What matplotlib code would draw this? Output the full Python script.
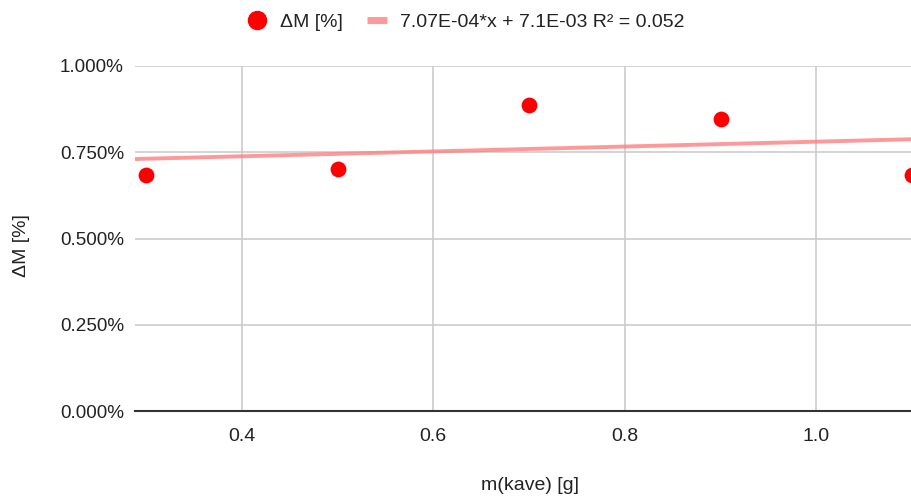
import matplotlib
matplotlib.use("Agg")
import matplotlib.pyplot as plt
import numpy as np
from matplotlib.ticker import FuncFormatter
from matplotlib.lines import Line2D

plt.rcParams['font.family'] = ['Liberation Sans', 'DejaVu Sans']

# data
x_vals = [0.3, 0.5, 0.7, 0.9, 1.1]
dm_pct = [0.684, 0.701, 0.887, 0.846, 0.684]  # in percent
trend_slope = 7.07e-04
trend_intercept = 7.1e-03
x_ticks = [0.4, 0.6, 0.8, 1.0]
y_ticks = [0.0, 0.25, 0.5, 0.75, 1.0]
series_label = "ΔM [%]"
trend_label = "7.07E-04*x + 7.1E-03 R² = 0.052"

FS = 14
TXT = '#222222'

fig = plt.figure(figsize=(9.12, 4.97), dpi=100)
ax = fig.add_axes([135/912, 1 - 411/497, (912-135)/912, (411-66)/497])

xlim = (0.2885, 1.1)
ax.set_xlim(*xlim)
ax.set_ylim(0, 1.0)

# trendline
tx = np.array(xlim)
ty = (trend_slope * tx + trend_intercept) * 100
ax.plot(tx, ty, color='#ff8080', alpha=0.8, lw=2.8, solid_capstyle='butt', zorder=3)

ax.scatter(x_vals, dm_pct, s=130, color='#ff0000', zorder=4, linewidths=0)

ax.set_xticks(x_ticks)
ax.set_yticks(y_ticks)
ax.xaxis.set_major_formatter(FuncFormatter(lambda v, p: f"{v:.1f}"))
ax.yaxis.set_major_formatter(FuncFormatter(lambda v, p: f"{v:.3f}%"))
ax.grid(True, color='#cccccc', lw=1.2, zorder=0)
ax.set_axisbelow(True)
for s in ['top', 'right', 'left']:
    ax.spines[s].set_visible(False)
ax.spines['bottom'].set_color('#333333')
ax.spines['bottom'].set_linewidth(1.5)
ax.spines['bottom'].set_zorder(5)
ax.tick_params(axis='both', length=0, labelsize=FS, colors=TXT)
ax.tick_params(axis='y', labelsize=13.6, pad=8)
ax.tick_params(axis='x', pad=12)

fig.text(530/912, 1 - 485/497, "m(kave) [g]", ha='center', va='center', fontsize=FS, color=TXT)
fig.text(22/912, 1 - 246/497, series_label, ha='center', va='center', rotation=90, fontsize=FS, color=TXT)

handles = [
    Line2D([], [], marker='o', ls='none', color='#ff0000', markersize=13),
    Line2D([], [], color='#ff8080', alpha=0.8, lw=5, solid_capstyle='butt'),
]
leg = fig.legend(handles, [series_label, trend_label], loc='center', bbox_to_anchor=(466/912, 1 - 22/497),
                 ncol=2, frameon=False, fontsize=FS, handlelength=1.0, handletextpad=0.7, columnspacing=1.25,
                 borderpad=0, borderaxespad=0)
for t in leg.get_texts():
    t.set_color(TXT)

fig.savefig("out.png", dpi=100)
